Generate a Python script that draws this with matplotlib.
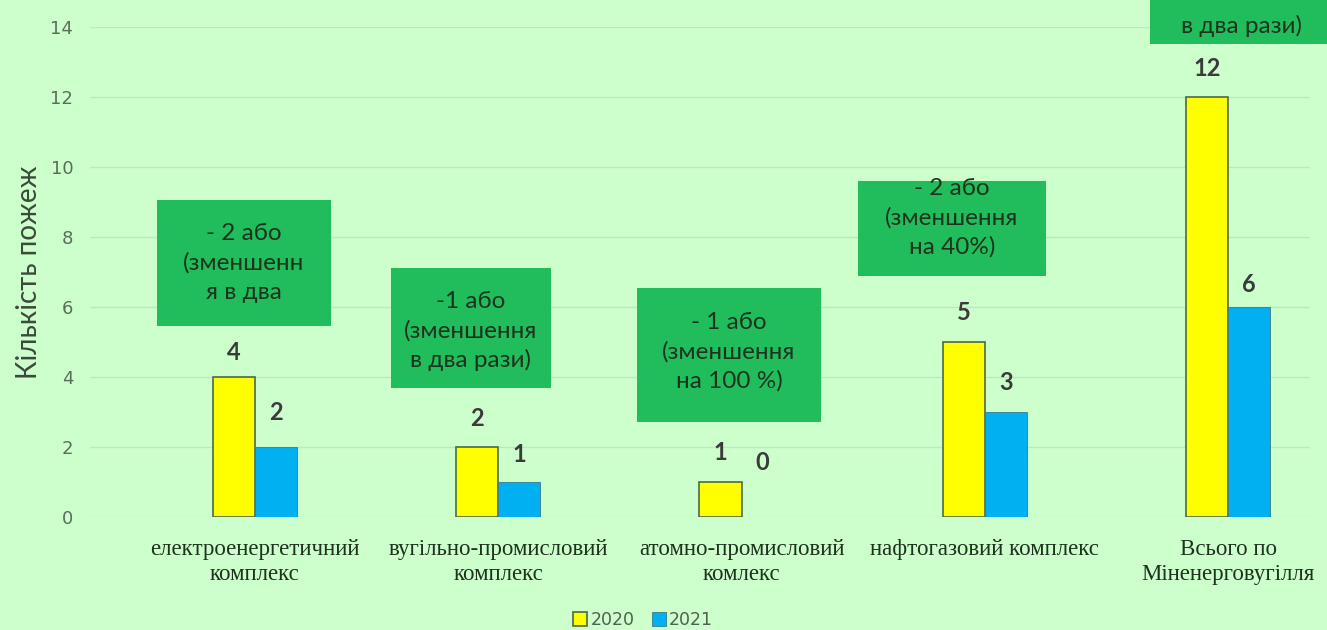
import numpy as np
import matplotlib.pyplot as plt
from matplotlib.patches import Rectangle

# дані
categories = ["електроенергетичний\nкомплекс", "вугільно-промисловий\nкомплекс",
              "атомно-промисловий\nкомлекс", "нафтогазовий комплекс",
              "Всього по\nМіненерговугілля"]
v2020 = [4, 2, 1, 5, 12]
v2021 = [2, 1, 0, 3, 6]
notes = ["- 2 або\n(зменшенн\nя в два", "-1 або\n(зменшення\nв два рази)",
         "- 1 або\n(зменшення\nна 100 %)", "- 2 або\n(зменшення\nна 40%)",
         "в два рази)"]

bg = '#ccffcc'
boxc = '#21bd5c'
txtc = '#1d331d'

fig = plt.figure(figsize=(13.27, 6.30), dpi=100, facecolor=bg)
ax = fig.add_axes([90/1327, 1-517/630, 1220/1327, 490/630], facecolor=bg)

x = np.arange(len(categories))
w = 0.173
b1 = ax.bar(x - w/2, v2020, w, color='#ffff00', edgecolor='#4a6a4a', linewidth=1.2, label='2020', zorder=3)
b2 = ax.bar(x + w/2, v2021, w, color='#00b0f0', edgecolor='#3a7a8a', linewidth=0.6, label='2021', zorder=3)

ax.set_xlim((90-255)/243.25, (1310-255)/243.25)
ax.set_ylim(0, 14)
ax.set_yticks(range(0, 15, 2))
ax.grid(axis='y', color='#bde8bd', linewidth=1, zorder=0)
for s in ax.spines.values():
    s.set_visible(False)
ax.tick_params(length=0)
ax.tick_params(axis='y', labelsize=13, labelcolor='#5a6e5a', pad=12)
ax.set_xticks(x)
ax.set_xticklabels(categories, family='Liberation Serif', fontsize=16.5, color=txtc, linespacing=1.25)
ax.tick_params(axis='x', pad=16)
ax.set_ylabel("Кількість пожеж", family='Lato', fontsize=20, color='#3a4a3a', labelpad=6)

# підписи значень (відступ у пікселях)
off1 = [25, 29, 29, 29, 28]
off2 = [35, 27, 54, 30, 23]
for i in range(len(x)):
    ax.annotate(str(v2020[i]), (x[i] - w/2, v2020[i]), xytext=(0, off1[i]*0.72),
                textcoords='offset points', ha='center', va='center',
                family='Lato', fontweight='bold', fontsize=17, color='#3a3a3a')
    ax.annotate(str(v2021[i]), (x[i] + w/2, v2021[i]), xytext=(0, off2[i]*0.72),
                textcoords='offset points', ha='center', va='center',
                family='Lato', fontweight='bold', fontsize=17, color='#3a3a3a')

# зелені виноски
boxes = [(157, 331, 200, 326, 263), (391, 551, 268, 388, 331), (637, 821, 288, 422, 352),
         (858, 1046, 181, 276, 218), (1150, 1334, -68, 44, 26)]
for (px0, px1, py0, py1, ty), t in zip(boxes, notes):
    x0 = (px0-255)/243.25
    x1 = (px1-255)/243.25
    y0 = (517-py1)/35
    y1 = (517-py0)/35
    r = Rectangle((x0, y0), x1-x0, y1-y0, facecolor=boxc, edgecolor='none', zorder=4, clip_on=False)
    ax.add_patch(r)
    ax.text((x0+x1)/2, (517-ty)/35, t, ha='center', va='center', family='Lato',
            fontsize=17.5, color=txtc, linespacing=1.45, zorder=5, clip_on=False)

fig.legend(handles=[b1, b2], loc='center', bbox_to_anchor=(643/1327, 1-620/630), ncol=2,
           frameon=False, fontsize=12.5, labelcolor='#506050', handlelength=0.8, handleheight=0.8,
           handletextpad=0.2, columnspacing=1.0)

fig.savefig('out.png', dpi=100, facecolor=bg)
